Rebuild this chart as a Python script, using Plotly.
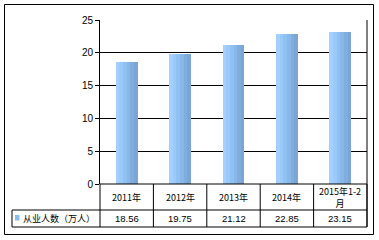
import plotly.graph_objects as go

categories = ["2011年", "2012年", "2013年", "2014年", "2015年1-2月"]
cat_labels = ["2011年", "2012年", "2013年", "2014年", "2015年1-2<br>月"]
values = [18.56, 19.75, 21.12, 22.85, 23.15]
value_labels = ["18.56", "19.75", "21.12", "22.85", "23.15"]
series_name = "从业人数（万人）"
y_ticks = [0, 5, 10, 15, 20, 25]

W, H = 379, 240
L, R, T, B = 100, 12, 20, 56
PW, PH = W - L - R, H - T - B

def px(x):
    return (x - L) / PW

def py(y):
    return (H - B - y) / PH

fig = go.Figure()

# gradient bars via slices
slice_colors = ["#A3D0FF", "#99CAFB", "#90C1F3", "#88B7E9", "#80ADDE", "#7AA5D4"]
bw = 0.41
n = len(slice_colors)
for i, c in enumerate(slice_colors):
    fig.add_trace(go.Bar(
        x=categories, y=values, width=bw / n, offset=-bw / 2 + i * bw / n,
        marker=dict(color=c, line=dict(width=0)), showlegend=False,
        hoverinfo="skip"))

fig.update_layout(
    width=W, height=H, margin=dict(l=L, r=R, t=T, b=B),
    paper_bgcolor="white", plot_bgcolor="white", barmode="overlay",
    bargap=0,
    xaxis=dict(showticklabels=False, showgrid=False, zeroline=False,
               showline=False, ticks="", range=[-0.5, 4.5]),
    yaxis=dict(range=[0, 25], tickvals=y_ticks, showgrid=True,
               gridcolor="black", gridwidth=1, zeroline=False,
               showline=True, linecolor="black", linewidth=1,
               ticks="outside", ticklen=4, tickcolor="black",
               tickfont=dict(family="Liberation Sans", size=10, color="black")),
    font=dict(family="Noto Sans CJK SC", size=9, color="black"),
)

shapes = []
def line(x0, y0, x1, y1):
    shapes.append(dict(type="line", xref="paper", yref="paper",
                       x0=px(x0), y0=py(y0), x1=px(x1), y1=py(y1),
                       line=dict(color="black", width=1)))

# outer border
shapes.append(dict(type="rect", xref="paper", yref="paper",
                   x0=px(4.5), y0=py(4.5), x1=px(373.5), y1=py(234.5),
                   line=dict(color="black", width=1)))
# right border of plot area
line(367, 20, 367, 227)
# x axis
line(100, 184, 367, 184)
# table horizontal lines
line(12, 210, 367, 210)
line(12, 227, 367, 227)
line(12, 210, 12, 227)
colw = (367 - 100) / 5
for k in range(6):
    xk = 100 + k * colw
    line(xk, 184, xk, 227)
# legend key
shapes.append(dict(type="rect", xref="paper", yref="paper",
                   x0=px(15), y0=py(215), x1=px(19.5), y1=py(220.5),
                   fillcolor="#8CBDEF", line=dict(width=0)))
fig.update_layout(shapes=shapes)

ann = []
for k in range(5):
    cx = 100 + (k + 0.5) * colw
    ann.append(dict(xref="paper", yref="paper", x=px(cx), y=py(197),
                    text=cat_labels[k], showarrow=False, xanchor="center",
                    yanchor="middle", font=dict(size=9)))
    ann.append(dict(xref="paper", yref="paper", x=px(cx), y=py(218.5),
                    text=value_labels[k], showarrow=False, xanchor="center",
                    yanchor="middle", font=dict(family="Liberation Sans", size=9.5)))
ann.append(dict(xref="paper", yref="paper", x=px(21), y=py(218.5),
                text=series_name, showarrow=False, xanchor="left",
                yanchor="middle", font=dict(size=9)))
fig.update_layout(annotations=ann)

fig.write_html("out.html")
